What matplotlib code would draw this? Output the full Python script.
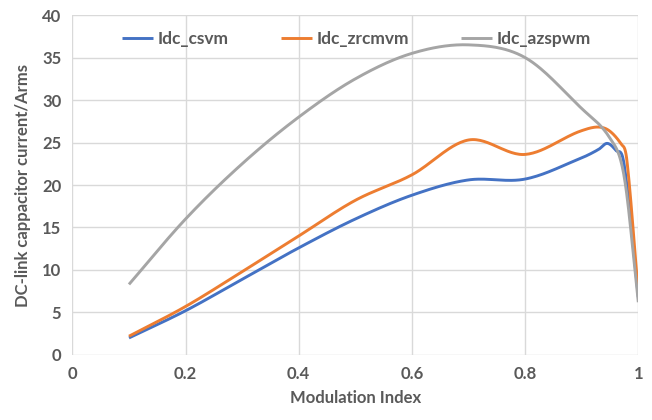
import numpy as np
import matplotlib
matplotlib.use("Agg")
import matplotlib.pyplot as plt

# modulation index sample points and capacitor current (Arms)
m_csvm = [0.1, 0.2, 0.3, 0.4, 0.5, 0.6, 0.7, 0.8, 0.9, 0.93, 0.945, 0.96, 0.975, 1.0]
i_csvm = [2.0, 5.2, 8.9, 12.6, 16.0, 18.8, 20.6, 20.7, 23.2, 24.2, 24.9, 24.1, 22.4, 6.8]

m_zrcmvm = [0.1, 0.2, 0.3, 0.4, 0.5, 0.6, 0.7, 0.8, 0.9, 0.94, 0.97, 0.98, 1.0]
i_zrcmvm = [2.2, 5.7, 9.8, 14.0, 18.2, 21.2, 25.3, 23.6, 26.4, 26.7, 24.8, 22.8, 7.2]

m_azspwm = [0.1, 0.2, 0.3, 0.4, 0.5, 0.6, 0.7, 0.8, 0.9, 0.95, 0.975, 1.0]
i_azspwm = [8.3, 16.0, 22.5, 28.0, 32.5, 35.5, 36.5, 35.0, 29.0, 25.5, 21.0, 6.2]

labels = ["Idc_csvm", "Idc_zrcmvm", "Idc_azspwm"]
colors = ["#4472C4", "#ED7D31", "#A5A5A5"]


def smooth(x, y, n=30):
    # cubic hermite through the points, slopes from the neighbouring points
    x = np.asarray(x, float)
    y = np.asarray(y, float)
    m = np.empty_like(y)
    m[1:-1] = (y[2:] - y[:-2]) / (x[2:] - x[:-2])
    m[0] = (y[1] - y[0]) / (x[1] - x[0])
    m[-1] = (y[-1] - y[-2]) / (x[-1] - x[-2])
    t = np.linspace(0, 1, n)
    h00 = 2 * t ** 3 - 3 * t ** 2 + 1
    h10 = t ** 3 - 2 * t ** 2 + t
    h01 = -2 * t ** 3 + 3 * t ** 2
    h11 = t ** 3 - t ** 2
    xs, ys = [], []
    for i in range(len(x) - 1):
        h = x[i + 1] - x[i]
        xs.append(x[i] + h * t)
        ys.append(h00 * y[i] + h10 * h * m[i] + h01 * y[i + 1] + h11 * h * m[i + 1])
    return np.concatenate(xs), np.concatenate(ys)


plt.rcParams["font.family"] = ["Lato", "DejaVu Sans"]
fig = plt.figure(figsize=(6.52, 4.2), dpi=100)
ax = fig.add_axes([0.111, 0.155, 0.868, 0.809])

for (mx, iy), lab, c in zip([(m_csvm, i_csvm), (m_zrcmvm, i_zrcmvm), (m_azspwm, i_azspwm)],
                            labels, colors):
    sx, sy = smooth(mx, iy)
    ax.plot(sx, sy, color=c, lw=2.1, label=lab, solid_capstyle="butt")

ax.set_xlim(0, 1)
ax.set_ylim(0, 40)
ax.set_xticks(np.arange(0, 1.01, 0.2))
ax.set_xticklabels(["0", "0.2", "0.4", "0.6", "0.8", "1"])
ax.set_yticks(range(0, 41, 5))
ax.grid(True, color="#D9D9D9", lw=1)
ax.set_axisbelow(True)
for s in ax.spines.values():
    s.set_visible(False)
ax.tick_params(length=0, labelsize=12, labelcolor="#595959", pad=8)
for lbl in ax.get_xticklabels() + ax.get_yticklabels():
    lbl.set_fontweight("bold")

ax.set_xlabel("Modulation Index", fontsize=12, fontweight="bold", color="#595959", labelpad=6)
ax.set_ylabel("DC-link cappacitor current/Arms", fontsize=12, fontweight="bold",
              color="#595959", labelpad=8)

leg = ax.legend(loc="upper left", bbox_to_anchor=(0.06, 1.0), ncol=3, frameon=False,
                fontsize=12.5, handlelength=1.8, handletextpad=0.25, columnspacing=3.0)
for t in leg.get_texts():
    t.set_color("#595959")
    t.set_fontweight("bold")

fig.savefig("out.png", dpi=100)
